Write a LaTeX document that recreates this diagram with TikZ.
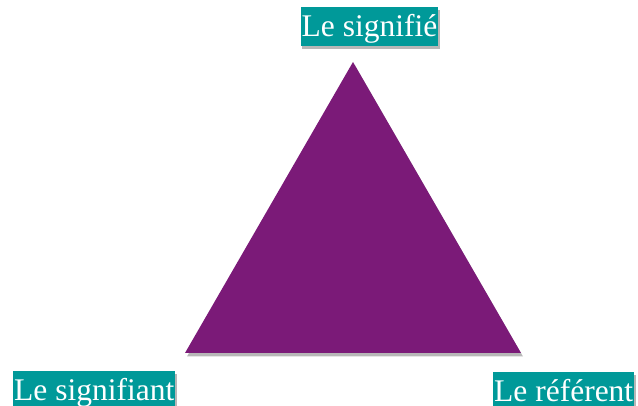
\documentclass[tikz,border=0pt]{standalone}
\usepackage{fontspec}
\setmainfont{Liberation Serif}
\usetikzlibrary{shadows}
\definecolor{tri}{HTML}{7B1A78}
\definecolor{teal}{HTML}{009999}
\begin{document}
\begin{tikzpicture}[x=1pt,y=-1pt,
  lbl/.style={fill=teal, text=white, font=\fontsize{31.5}{32}\selectfont, inner xsep=1pt, inner ysep=0pt, text height=29pt, text depth=9pt, minimum height=39pt, drop shadow={shadow xshift=1.5pt, shadow yshift=-3pt, opacity=0.4, fill=black!70}},
  trishape/.style={fill=tri, drop shadow={shadow xshift=2pt, shadow yshift=-3.5pt, opacity=0.4, fill=black!70}}]
\useasboundingbox (0,0) rectangle (638,406);
\coordinate (apex) at (353,62);
\coordinate (bl) at (185,353);
\coordinate (br) at (521,353);
\path[trishape] (apex) -- (bl) -- (br) -- cycle;
\node[lbl, anchor=north] (signifie) at (369.5,7) {Le signifié};
\node[lbl, anchor=north west] (signifiant) at (13,371) {Le signifiant};
\node[lbl, anchor=north west] (referent) at (493,372) {Le référent};
\end{tikzpicture}
\end{document}
